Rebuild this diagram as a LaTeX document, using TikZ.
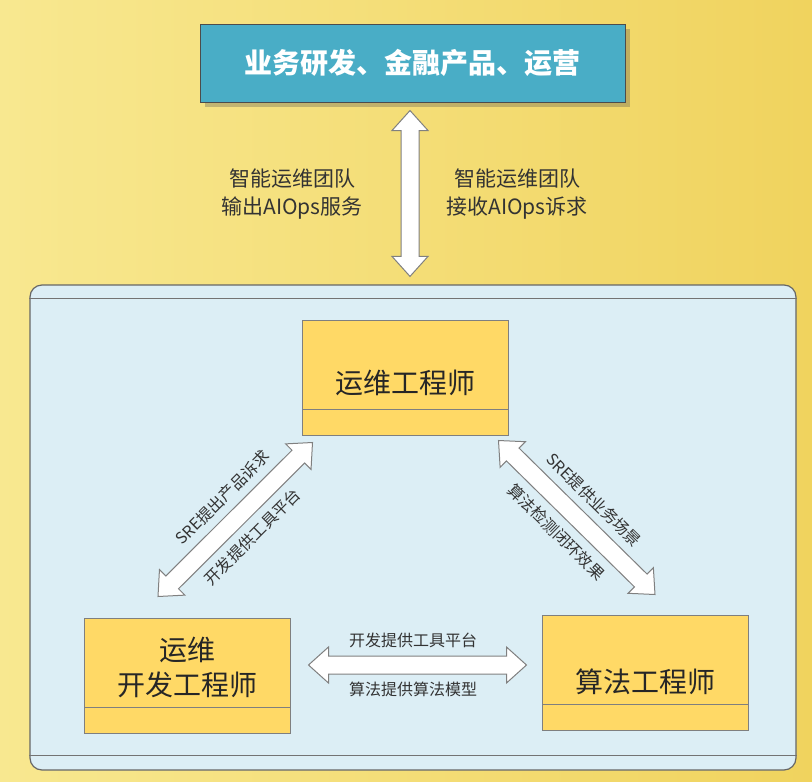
\documentclass[tikz,border=0pt]{standalone}
\usepackage{fontspec}
\setmainfont{Noto Sans CJK SC}
\usetikzlibrary{calc,shadows}

\definecolor{bgleft}{HTML}{F8E890}
\definecolor{bgright}{HTML}{F0D35E}
\definecolor{bizblue}{HTML}{49ADC6}
\definecolor{teamblue}{HTML}{DCEEF5}
\definecolor{roleyellow}{HTML}{FFD966}
\definecolor{edgegray}{HTML}{7F7F7F}

\tikzset{
	role/.style={draw=edgegray, fill=roleyellow, line width=1pt, minimum width=206pt, minimum height=115pt, inner sep=0pt,
		path picture={\draw[edgegray, line width=1pt] ($(path picture bounding box.south west)+(0,-26)$) -- ($(path picture bounding box.south east)+(0,-26)$);}},
	roletext/.style={font=\fontsize{28}{35}\selectfont, text=black!85, align=center, inner sep=0pt},
	blockarrow/.style={draw=gray, fill=white, line width=1pt, line join=miter},
	toplabel/.style={font=\fontsize{21}{28}\selectfont, text=black!80, align=center},
	armlabel/.style={font=\fontsize{16}{20}\selectfont, text=black!80, inner sep=0pt},
}

% block arrow with heads at both ends
\newcommand{\blockarr}[2]{%
	\draw[blockarrow] (#1)
		-- ($(#1)!20pt!(#2)!18pt!90:(#2)$)
		-- ($(#1)!20pt!(#2)!9pt!90:(#2)$)
		-- ($(#2)!20pt!(#1)!9pt!-90:(#1)$)
		-- ($(#2)!20pt!(#1)!18pt!-90:(#1)$)
		-- (#2)
		-- ($(#2)!20pt!(#1)!18pt!90:(#1)$)
		-- ($(#2)!20pt!(#1)!9pt!90:(#1)$)
		-- ($(#1)!20pt!(#2)!9pt!-90:(#2)$)
		-- ($(#1)!20pt!(#2)!18pt!-90:(#2)$)
		-- cycle;}

\begin{document}
\begin{tikzpicture}[x=1pt,y=-1pt]
	
	\useasboundingbox (0,0) rectangle (812,782);
	\shade[left color=bgleft, right color=bgright] (0,0) rectangle (812,782);
	
	% top
	\node[draw=black!70, fill=bizblue, line width=1pt, minimum width=425pt, minimum height=78pt,
		drop shadow={shadow xshift=5pt, shadow yshift=-5pt, opacity=.3, fill=black!70},
		font=\fontsize{28}{34}\selectfont\bfseries, text=white] (biz) at (412.5,63) {业务研发、金融产品、运营};
	
	% team panel
	\node[draw=black!60, fill=teamblue, line width=1.2pt, rounded corners=12pt, minimum width=766pt, minimum height=485pt] (team) at (413,527.5) {};
	\draw[black!55, line width=1.2pt] ($(team.north west)+(0,14)$) -- ($(team.north east)+(0,14)$);
	\draw[black!55, line width=1.2pt] ($(team.south west)+(0,-15)$) -- ($(team.south east)+(0,-15)$);
	
	\coordinate (up-a) at ($(biz.south)+(-2.5,8)$);
	\coordinate (up-b) at ($(up-a |- team.north)+(0,-8)$);
	\blockarr{up-a}{up-b}
	\node[toplabel] (out-l) at (292,194) {智能运维团队\\输出AIOps服务};
	\node[toplabel] (in-l) at (517,194) {智能运维团队\\接收AIOps诉求};
	
	% roles
	\node[role] (ops) at (405,377.5) {};
	\node[roletext] (ops-t) at ($(ops)+(0,5.5)$) {运维工程师};
	\node[role] (dev) at (187,675.5) {};
	\node[roletext] (dev-t) at ($(dev)+(0,-8)$) {运维\\开发工程师};
	\node[role] (algo) at (645,672.5) {};
	\node[roletext] (algo-t) at ($(algo)+(0,9.5)$) {算法工程师};
	
	% ops <-> dev
	\coordinate (l-a) at ($(dev.north)+(-29,-21)$);
	\coordinate (l-b) at ($(ops.south west)+(11,7)$);
	\blockarr{l-a}{l-b}
	\path (l-a) -- (l-b)
		node[armlabel, pos=.53, sloped, above=17pt] (l-up) {SRE提出产品诉求}
		node[armlabel, midway, sloped, below=17pt] (l-dn) {开发提供工具平台};
	
	% ops <-> algo
	\coordinate (r-a) at ($(ops.south east)+(-10,5)$);
	\coordinate (r-b) at ($(algo.north)+(10,-20)$);
	\blockarr{r-a}{r-b}
	\path (r-a) -- (r-b)
		node[armlabel, midway, sloped, above=17pt] (r-up) {SRE提供业务场景}
		node[armlabel, pos=.48, sloped, below=17pt] (r-dn) {算法检测闭环效果};
	
	% dev <-> algo
	\coordinate (h-a) at ($(dev.east)+(18,-10.5)$);
	\coordinate (h-b) at ($(h-a -| algo.west)+(-15,0)$);
	\blockarr{h-a}{h-b}
	\path (h-a) -- (h-b)
		node[armlabel, pos=.48, above=17pt] (h-up) {开发提供工具平台}
		node[armlabel, pos=.48, below=17pt] (h-dn) {算法提供算法模型};
	
\end{tikzpicture}
\end{document}
